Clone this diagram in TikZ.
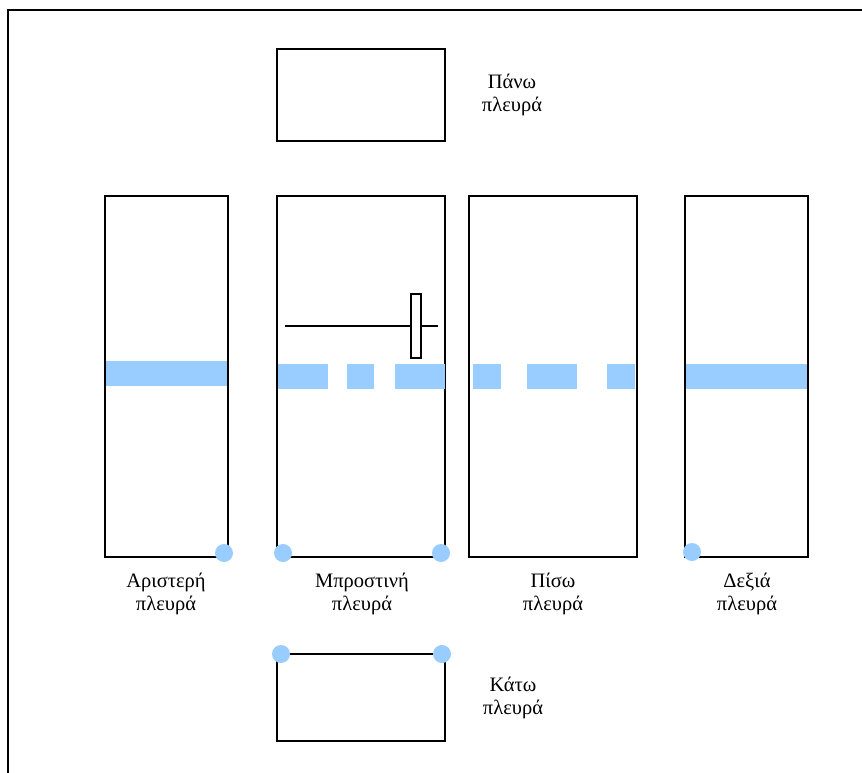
\documentclass[tikz,border=0pt]{standalone}
\usepackage{fontspec}
\setmainfont{Liberation Serif}
\definecolor{cutblue}{RGB}{153,204,255}
\begin{document}
\begin{tikzpicture}[x=1pt,y=-1pt,
  panel/.style={draw=black,line width=1.6pt},
  strip/.style={fill=cutblue,draw=none},
  pin/.style={circle,fill=cutblue,draw=none,minimum size=18pt,inner sep=0pt},
  label/.style={align=center,font=\fontsize{20.5}{22.5}\selectfont,inner sep=0pt}]
\useasboundingbox (0,0) rectangle (862,773);
% outer frame (runs off the page to the right and bottom)
\draw[line width=1.6pt] (8,800) -- (8,10) -- (880,10);

% the six faces of the unfolded box
\draw[panel] (277,49) rectangle (445,141);
\draw[panel] (105,196) rectangle (228,557);
\draw[panel] (277,196) rectangle (445,557);
\draw[panel] (469,196) rectangle (637,557);
\draw[panel] (685,196) rectangle (808,557);
\draw[panel] (277,654) rectangle (445,741);

% cutting line across the side faces
\fill[strip] (106,361) rectangle (227,386);
\fill[strip] (278,364) rectangle (328,389);
\fill[strip] (347,364) rectangle (374,389);
\fill[strip] (395,364) rectangle (445,389);
\fill[strip] (473,364) rectangle (501,389);
\fill[strip] (527,364) rectangle (577,389);
\fill[strip] (607,364) rectangle (635,389);
\fill[strip] (686,364) rectangle (807,389);

% handle on the front face
\coordinate (hA) at (285,326);
\coordinate (hB) at (438,326);
\draw[line width=1.3pt] (hA) -- (hB);
\draw[line width=1.3pt,fill=white] (411,294) rectangle (421,358);

% corner pins
\node[pin] (p1) at (224,553) {};
\node[pin] (p2) at (283,553) {};
\node[pin] (p3) at (441,553) {};
\node[pin] (p4) at (692,552) {};
\node[pin] (p5) at (281,654) {};
\node[pin] (p6) at (442,654) {};

% face names
\node[label] (lt) at (512,95) {Πάνω\\πλευρά};
\node[label] (ll) at (166,594) {Αριστερή\\πλευρά};
\node[label] (lf) at (362,594) {Μπροστινή\\πλευρά};
\node[label] (lb) at (553,594) {Πίσω\\πλευρά};
\node[label] (lr) at (747,594) {Δεξιά\\πλευρά};
\node[label] (lk) at (513,698) {Κάτω\\πλευρά};
\end{tikzpicture}
\end{document}
